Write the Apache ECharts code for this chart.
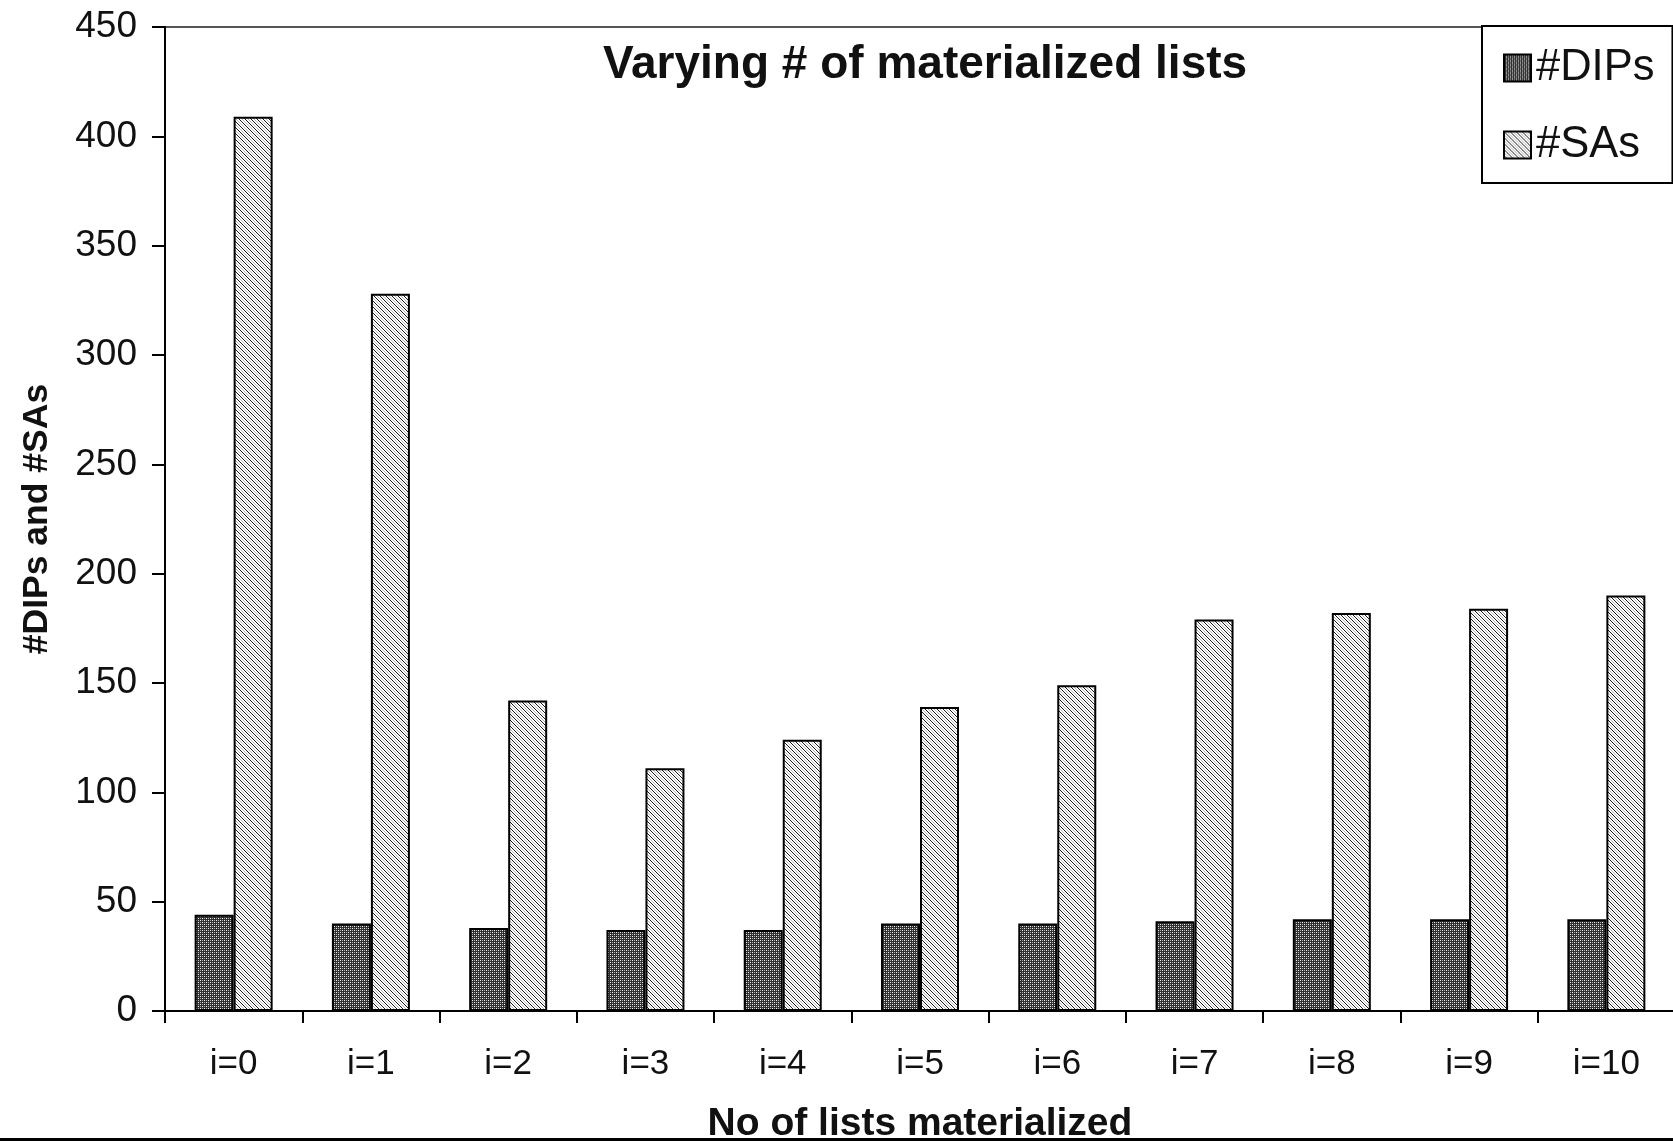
<!DOCTYPE html>
<html>
<head>
<meta charset="utf-8">
<script src="https://cdn.jsdelivr.net/npm/echarts@6/dist/echarts.min.js"></script>
<style>
  html, body { margin: 0; padding: 0; background: #fff; }
  #chart { width: 1673px; height: 1141px; }
</style>
</head>
<body>
<div id="chart"></div>
<script>
const categories = ['i=0', 'i=1', 'i=2', 'i=3', 'i=4', 'i=5', 'i=6', 'i=7', 'i=8', 'i=9', 'i=10'];
const dips = [44, 40, 38, 37, 37, 40, 40, 41, 42, 42, 42];
const sas = [409, 328, 142, 111, 124, 139, 149, 179, 182, 184, 190];
const yTicks = { min: 0, max: 450, interval: 50 };
const titleText = 'Varying # of materialized lists';
const xName = 'No of lists materialized';
const yName = '#DIPs and #SAs';

const FONT = 'Liberation Sans, Arial, Helvetica, sans-serif';

function dotPattern() {
  const c = document.createElement('canvas');
  c.width = 4; c.height = 4;
  const g = c.getContext('2d');
  g.fillStyle = '#303030'; g.fillRect(0, 0, 4, 4);
  g.fillStyle = '#f4f4f4';
  g.fillRect(0, 0, 1, 1);
  g.fillRect(2, 2, 1, 1);
  g.fillStyle = '#b0b0b0';
  g.fillRect(2, 0, 1, 1);
  g.fillRect(0, 2, 1, 1);
  return c;
}
function hatchPattern() {
  const n = 6;
  const c = document.createElement('canvas');
  c.width = n; c.height = n;
  const g = c.getContext('2d');
  g.fillStyle = '#ffffff'; g.fillRect(0, 0, n, n);
  for (let i = 0; i < n; i++) {
    g.fillStyle = '#1a1a1a';
    g.fillRect(i, i, 1, 1);
    g.fillStyle = '#b8b8b8';
    g.fillRect(i, (i + 3) % n, 1, 1);
  }
  return c;
}

const chart = echarts.init(document.getElementById('chart'), null, { renderer: 'canvas' });
chart.setOption({
  backgroundColor: '#ffffff',
  animation: false,
  title: {
    text: titleText,
    left: 920,
    textAlign: 'center',
    top: 37,
    textStyle: { fontFamily: FONT, fontSize: 46, fontWeight: 'bold', color: '#111' }
  },
  legend: {
    orient: 'vertical',
    left: 1482,
    top: 26,
    icon: 'rect',
    itemWidth: 27,
    itemHeight: 27,
    itemGap: 33,
    padding: [20, 18, 16, 21],
    borderColor: '#000',
    borderWidth: 2,
    backgroundColor: '#fff',
    textStyle: { fontFamily: FONT, fontSize: 43.5, color: '#111', lineHeight: 40 },
    data: ['#DIPs', '#SAs']
  },
  grid: {
    left: 165,
    right: -2,
    top: 27,
    height: 984,
    outerBoundsMode: 'none',
    containLabel: false,
    show: true,
    borderColor: '#555',
    borderWidth: 2,
    backgroundColor: 'transparent'
  },
  xAxis: {
    type: 'category',
    data: categories,
    name: xName,
    nameLocation: 'middle',
    nameGap: 94,
    nameTextStyle: { fontFamily: FONT, fontSize: 39, fontWeight: 'bold', color: '#111' },
    axisLine: { lineStyle: { color: '#000', width: 2 } },
    axisTick: { show: true, length: 12, lineStyle: { color: '#000', width: 2 } },
    axisLabel: { fontFamily: FONT, fontSize: 35, color: '#111', margin: 36 },
    splitLine: { show: false }
  },
  yAxis: {
    type: 'value',
    min: yTicks.min,
    max: yTicks.max,
    interval: yTicks.interval,
    name: yName,
    nameLocation: 'middle',
    nameRotate: 90,
    nameGap: 110,
    nameTextStyle: { fontFamily: FONT, fontSize: 35.5, fontWeight: 'bold', color: '#111' },
    axisLine: { show: true, lineStyle: { color: '#000', width: 2 } },
    axisTick: { show: true, length: 13, lineStyle: { color: '#000', width: 2 } },
    axisLabel: { fontFamily: FONT, fontSize: 37, color: '#111', margin: 28 },
    splitLine: { show: false }
  },
  series: [
    {
      name: '#DIPs',
      type: 'bar',
      data: dips,
      barWidth: 39,
      barGap: '0%',
      itemStyle: { color: { image: dotPattern(), repeat: 'repeat' }, borderColor: '#000', borderWidth: 2 }
    },
    {
      name: '#SAs',
      type: 'bar',
      data: sas,
      barWidth: 39,
      barGap: '0%',
      itemStyle: { color: { image: hatchPattern(), repeat: 'repeat' }, borderColor: '#000', borderWidth: 2 }
    }
  ],
  graphic: [
    { type: 'rect', left: 0, bottom: 0, z: 100, shape: { width: 1673, height: 3 }, style: { fill: '#000' } }
  ]
});
</script>
</body>
</html>
